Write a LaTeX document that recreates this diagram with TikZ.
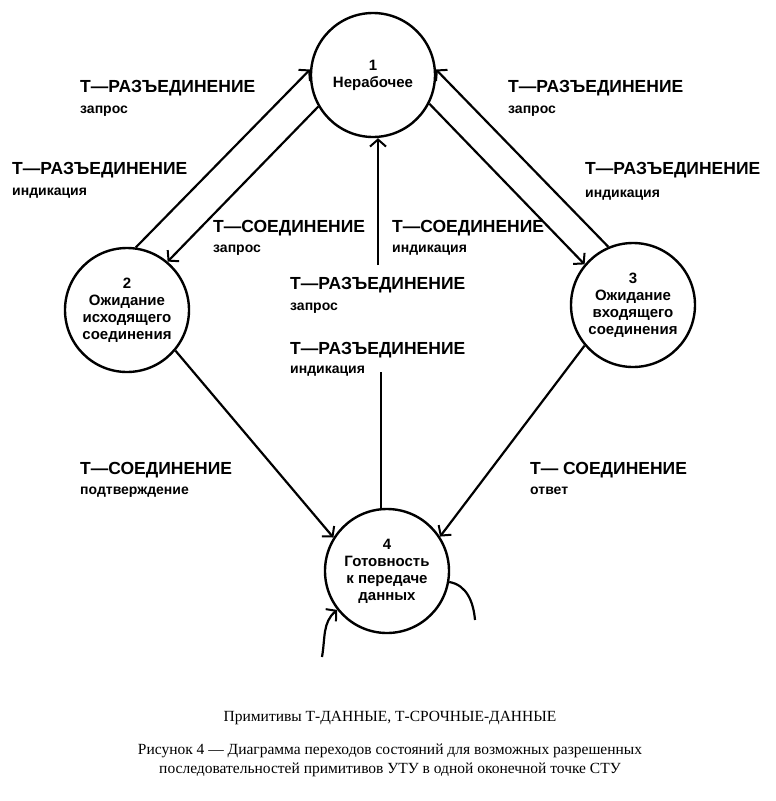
\documentclass[tikz,border=0pt]{standalone}
\usepackage{fontspec}
\setmainfont{Liberation Serif}
\newfontfamily\lab{Liberation Sans}
\usetikzlibrary{arrows.meta}
\tikzstyle{state} = [draw, circle, line width=2.4pt, minimum size=124pt, inner sep=0pt,
    align=center, font=\lab\bfseries\fontsize{15}{17}\selectfont]
\tikzstyle{big} = [anchor=north west, inner sep=0pt, font=\lab\bfseries\fontsize{17.5}{20}\selectfont]
\tikzstyle{small} = [anchor=north west, inner sep=0pt, font=\lab\bfseries\fontsize{14}{16}\selectfont]
\tikzstyle{conn} = [line width=2.2pt, -{Straight Barb[length=7pt,width=16pt,line width=2pt]}]

\begin{document}
\begin{tikzpicture}[x=1pt,y=-1pt]
    \useasboundingbox (0,0) rectangle (776,801);
    % the four states
    \node [state] (idle) at (373,75) {1\\Нерабочее};
    \node [state] (out) at (127,310) {2\\Ожидание\\исходящего\\соединения};
    \node [state] (in) at (633,305) {3\\Ожидание\\входящего\\соединения};
    \node [state] (ready) at (387,571) {4\\Готовность\\к передаче\\данных};
    % transitions between 1 and 2, 1 and 3
    \draw [conn] (out.82) -- (idle.175);
    \draw [conn] (idle.210) -- (out.50);
    \draw [conn] (in.113) -- (idle.5);
    \draw [conn] (idle.-27) -- (in.140);
    % vertical one, broken by its labels
    \coordinate (gapTop) at (378,265);
    \coordinate (gapBot) at (381,372);
    \draw [conn] (gapTop) -- (gapTop |- idle.south);
    \draw [line width=2.2pt] (gapBot) -- (gapBot |- ready.north);
    % into state 4
    \draw [conn] (out.-40) -- (ready.148);
    \draw [conn] (in.-140) -- (ready.33);
    % loop on state 4
    \coordinate (loopEnd) at (475,620);
    \coordinate (loopStart) at (322,657);
    \draw [line width=2.2pt] (ready.-10) to[out=-10,in=95] (loopEnd);
    \draw [conn] (loopStart) to[out=80,in=220] (ready.218);
    % labels
    \node [big] (l1) at (80,80) {Т—РАЗЪЕДИНЕНИЕ};
    \node [small] (l1b) at (80,106) {запрос};
    \node [big] (l2) at (12,162) {Т—РАЗЪЕДИНЕНИЕ};
    \node [small] (l2b) at (12,188) {индикация};
    \node [big] (l3) at (213,220) {Т—СОЕДИНЕНИЕ};
    \node [small] (l3b) at (213,245) {запрос};
    \node [big] (l4) at (392,220) {Т—СОЕДИНЕНИЕ};
    \node [small] (l4b) at (392,245) {индикация};
    \node [big] (l5) at (290,277) {Т—РАЗЪЕДИНЕНИЕ};
    \node [small] (l5b) at (290,303) {запрос};
    \node [big] (l6) at (290,342) {Т—РАЗЪЕДИНЕНИЕ};
    \node [small] (l6b) at (290,366) {индикация};
    \node [big] (l7) at (508,80) {Т—РАЗЪЕДИНЕНИЕ};
    \node [small] (l7b) at (508,106) {запрос};
    \node [big] (l8) at (585,162) {Т—РАЗЪЕДИНЕНИЕ};
    \node [small] (l8b) at (585,190) {индикация};
    \node [big] (l9) at (80,462) {Т—СОЕДИНЕНИЕ};
    \node [small] (l9b) at (80,487) {подтверждение};
    \node [big] (l10) at (530,462) {Т— СОЕДИНЕНИЕ};
    \node [small] (l10b) at (530,487) {ответ};
    % caption
    \node [font=\fontsize{15.5}{17}\selectfont] (prim) at (390,718) {Примитивы Т-ДАННЫЕ, Т-СРОЧНЫЕ-ДАННЫЕ};
    \node [font=\fontsize{15.5}{19}\selectfont, align=center] (cap) at (390,760)
        {Рисунок 4 — Диаграмма переходов состояний для возможных разрешенных\\последовательностей примитивов УТУ в одной оконечной точке СТУ};
\end{tikzpicture}
\end{document}
